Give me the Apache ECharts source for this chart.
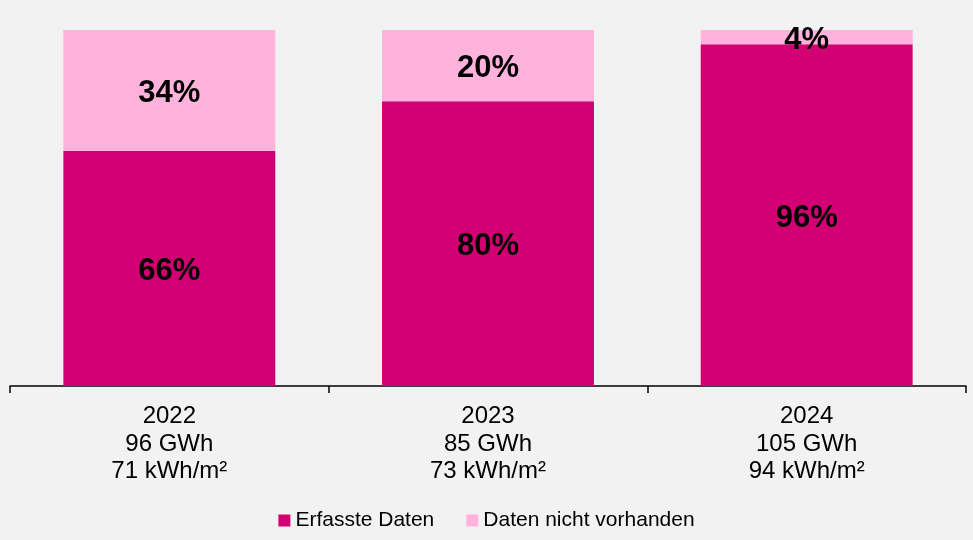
<!DOCTYPE html>
<html>
<head>
<meta charset="utf-8">
<script src="https://cdn.jsdelivr.net/npm/echarts@6/dist/echarts.min.js"></script>
<style>
  html, body { margin: 0; padding: 0; background: #f2f2f2; }
  #chart { width: 973px; height: 540px; }
</style>
</head>
<body>
<div id="chart"></div>
<script>
const years = ["2022", "2023", "2024"];
const energy = ["96 GWh", "85 GWh", "105 GWh"];
const intensity = ["71 kWh/m²", "73 kWh/m²", "94 kWh/m²"];
const erfasst = [66, 80, 96];
const fehlend = [34, 20, 4];

const categories = years.map((y, i) => y + "\n" + energy[i] + "\n" + intensity[i]);

const font = "Liberation Sans, Arial, sans-serif";
const chart = echarts.init(document.getElementById("chart"));

const valueLabel = {
  show: true,
  position: "inside",
  offset: [0, 3],
  formatter: "{c}%",
  color: "#000",
  fontFamily: font,
  fontWeight: "bold",
  fontSize: 31,
};

chart.setOption({
  backgroundColor: "#f2f2f2",
  animation: false,
  grid: { left: 10, right: 7, top: 30, bottom: 154 },
  legend: {
    bottom: 4,
    left: "center",
    itemWidth: 12,
    itemHeight: 12,
    itemGap: 32,
    icon: "rect",
    textStyle: { fontFamily: font, fontSize: 21, color: "#000" },
    data: ["Erfasste Daten", "Daten nicht vorhanden"],
  },
  xAxis: {
    type: "category",
    data: categories,
    axisLine: { lineStyle: { color: "#000", width: 1.5 } },
    axisTick: { show: true, length: 7, lineStyle: { color: "#000", width: 1.5 } },
    axisLabel: {
      margin: 17,
      color: "#000",
      fontFamily: font,
      fontSize: 24,
      lineHeight: 27.5,
    },
  },
  yAxis: {
    type: "value",
    min: 0,
    max: 100,
    show: false,
    splitLine: { show: false },
  },
  series: [
    {
      name: "Erfasste Daten",
      type: "bar",
      stack: "total",
      barWidth: "66.5%",
      data: erfasst,
      itemStyle: { color: "#d20073" },
      label: valueLabel,
    },
    {
      name: "Daten nicht vorhanden",
      type: "bar",
      stack: "total",
      barWidth: "66.5%",
      data: fehlend,
      itemStyle: { color: "#ffb3dc" },
      label: valueLabel,
    },
  ],
});
</script>
</body>
</html>
